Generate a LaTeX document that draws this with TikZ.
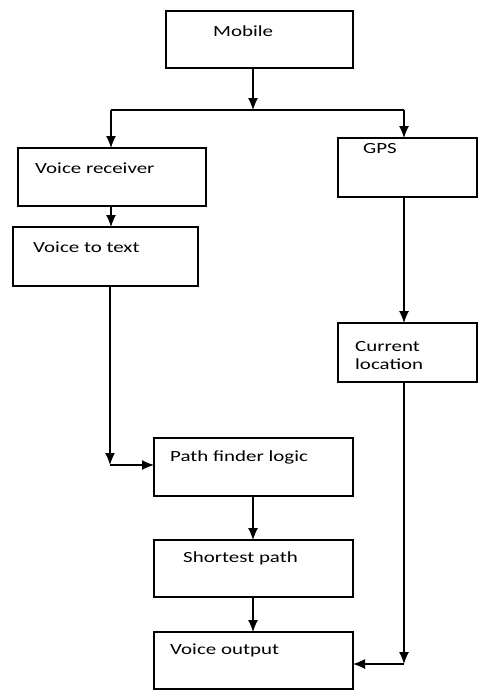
\documentclass[tikz,border=0pt]{standalone}
\usepackage{fontspec}
\setmainfont{Carlito}[FakeStretch=1.35]
\usetikzlibrary{arrows.meta}
\begin{document}
\begin{tikzpicture}[x=1pt, y=-1pt,
  box/.style={draw, line width=1.2pt, outer sep=0pt, inner sep=0pt},
  lbl/.style={anchor=west, inner sep=0pt, font=\fontsize{15.5}{18}\selectfont, align=left},
  arr/.style={-{Latex[length=12pt,width=10pt]}, line width=1.2pt},
  ln/.style={line width=1.2pt}]
  \useasboundingbox (0,0) rectangle (479,691);
  % boxes
  \node[box, minimum width=187, minimum height=57] (mobile) at (259.5,39.5) {};
  \node[box, minimum width=188, minimum height=58] (vrec) at (112,177) {};
  \node[box, minimum width=185, minimum height=59] (vtt) at (105.5,256.5) {};
  \node[box, minimum width=139, minimum height=59] (gps) at (407.5,167.5) {};
  \node[box, minimum width=139, minimum height=59] (cloc) at (407.5,352.5) {};
  \node[box, minimum width=199, minimum height=58] (pfl) at (253.5,467) {};
  \node[box, minimum width=199, minimum height=57] (sp) at (253.5,568.5) {};
  \node[box, minimum width=199, minimum height=57] (vout) at (253.5,660.5) {};
  % labels
  \node[lbl] (mobiletxt) at (213,31) {Mobile};
  \node[lbl] (vrectxt) at (35,168) {Voice receiver};
  \node[lbl] (vtttxt) at (33,247) {Voice to text};
  \node[lbl] (gpstxt) at (363,149) {GPS};
  \node[lbl] (cloctxt) at (355,356) {Current\\location};
  \node[lbl] (pfltxt) at (170,457) {Path finder logic};
  \node[lbl] (sptxt) at (183,558) {Shortest path};
  \node[lbl] (vouttxt) at (170,650) {Voice output};
  % branch points
  \coordinate (split) at (253,110);
  \coordinate (lft) at (111,110);
  \coordinate (rgt) at (404,110);
  \coordinate (vttbend) at (110,465);
  \coordinate (clocbend) at (404,664);
  % connectors
  \draw[arr] (mobile.south -| split) -- (split);
  \draw[ln] (lft) -- (rgt);
  \draw[arr] (lft) -- (vrec.north -| lft);
  \draw[arr] (rgt) -- (gps.north -| rgt);
  \draw[arr] (vrec.south -| lft) -- (vtt.north -| lft);
  \draw[arr] (vtt.south -| vttbend) -- (vttbend);
  \draw[arr] (vttbend) -- (pfl.west |- vttbend);
  \draw[arr] (gps.south -| rgt) -- (cloc.north -| rgt);
  \draw[arr] (pfl.south -| split) -- (sp.north -| split);
  \draw[arr] (sp.south -| split) -- (vout.north -| split);
  \draw[arr] (cloc.south -| clocbend) -- (clocbend);
  \draw[arr] (clocbend) -- (vout.east |- clocbend);
\end{tikzpicture}
\end{document}
